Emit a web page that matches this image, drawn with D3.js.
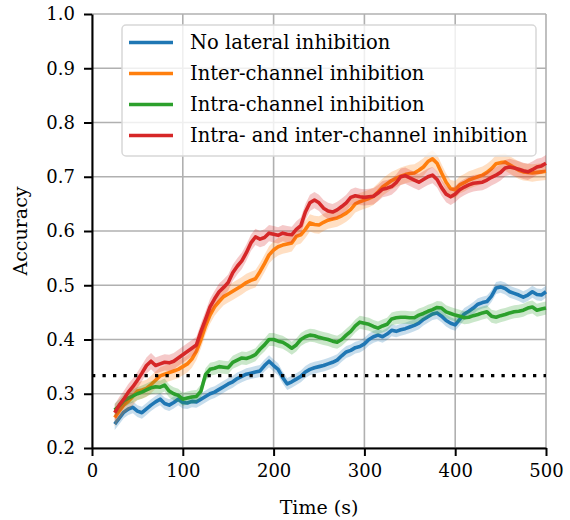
<!DOCTYPE html>
<html>
<head>
<meta charset="utf-8">
<script src="https://cdn.jsdelivr.net/npm/d3@7"></script>
<style>
  html, body { margin: 0; padding: 0; background: #fff; }
  svg { display: block; }
  text { font-family: "DejaVu Serif", serif; fill: #000; }
</style>
</head>
<body>
<svg id="chart" width="570" height="520"></svg>
<script>
// Sample times (s), one reading every 5 s
const times = d3.range(25, 501, 5);

// Mean accuracy per condition
const noLateral = [
  0.244, 0.255, 0.266, 0.272, 0.275, 0.268, 0.265, 0.272, 0.279, 0.285,
  0.290, 0.282, 0.279, 0.284, 0.290, 0.284, 0.283, 0.286, 0.285, 0.290,
  0.295, 0.300, 0.303, 0.308, 0.313, 0.318, 0.322, 0.328, 0.332, 0.336,
  0.338, 0.340, 0.342, 0.352, 0.360, 0.352, 0.345, 0.330, 0.318, 0.322,
  0.327, 0.332, 0.340, 0.345, 0.348, 0.350, 0.352, 0.355, 0.358, 0.362,
  0.370, 0.377, 0.380, 0.385, 0.387, 0.392, 0.400, 0.405, 0.408, 0.405,
  0.410, 0.417, 0.415, 0.418, 0.420, 0.423, 0.426, 0.430, 0.437, 0.442,
  0.447, 0.449, 0.443, 0.435, 0.430, 0.427, 0.437, 0.447, 0.452, 0.458,
  0.465, 0.468, 0.470, 0.480, 0.495, 0.497, 0.494, 0.488, 0.485, 0.482,
  0.478, 0.482, 0.488, 0.483, 0.482, 0.488
];
const interChannel = [
  0.256, 0.268, 0.279, 0.286, 0.295, 0.305, 0.307, 0.310, 0.317, 0.325,
  0.333, 0.336, 0.339, 0.342, 0.345, 0.350, 0.355, 0.364, 0.378, 0.400,
  0.425, 0.445, 0.460, 0.470, 0.479, 0.484, 0.489, 0.494, 0.499, 0.505,
  0.509, 0.512, 0.525, 0.540, 0.556, 0.565, 0.571, 0.574, 0.576, 0.578,
  0.590, 0.593, 0.603, 0.615, 0.612, 0.611, 0.616, 0.620, 0.622, 0.624,
  0.628, 0.633, 0.640, 0.650, 0.654, 0.657, 0.660, 0.664, 0.672, 0.681,
  0.687, 0.693, 0.697, 0.701, 0.704, 0.706, 0.707, 0.712, 0.718, 0.728,
  0.733, 0.725, 0.707, 0.690, 0.678, 0.676, 0.685, 0.689, 0.694, 0.697,
  0.700, 0.703, 0.708, 0.715, 0.724, 0.726, 0.727, 0.722, 0.717, 0.712,
  0.709, 0.708, 0.707, 0.708, 0.709, 0.710
];
const intraChannel = [
  0.270, 0.278, 0.287, 0.292, 0.296, 0.300, 0.303, 0.307, 0.311, 0.313,
  0.312, 0.316, 0.305, 0.300, 0.297, 0.290, 0.292, 0.294, 0.295, 0.305,
  0.335, 0.345, 0.347, 0.350, 0.349, 0.348, 0.358, 0.362, 0.366, 0.365,
  0.368, 0.372, 0.382, 0.390, 0.400, 0.400, 0.397, 0.395, 0.390, 0.384,
  0.390, 0.400, 0.405, 0.408, 0.407, 0.404, 0.402, 0.400, 0.397, 0.395,
  0.400, 0.408, 0.415, 0.425, 0.432, 0.430, 0.428, 0.424, 0.421, 0.425,
  0.428, 0.438, 0.440, 0.441, 0.441, 0.440, 0.440, 0.445, 0.448, 0.452,
  0.455, 0.459, 0.458, 0.451, 0.448, 0.445, 0.443, 0.440, 0.441, 0.444,
  0.446, 0.449, 0.451, 0.443, 0.441, 0.444, 0.446, 0.449, 0.451, 0.452,
  0.454, 0.458, 0.460, 0.454, 0.456, 0.458
];
const intraInter = [
  0.265, 0.279, 0.290, 0.303, 0.313, 0.325, 0.338, 0.352, 0.360, 0.352,
  0.355, 0.358, 0.357, 0.360, 0.366, 0.372, 0.378, 0.384, 0.390, 0.415,
  0.437, 0.460, 0.475, 0.488, 0.496, 0.505, 0.523, 0.535, 0.545, 0.560,
  0.578, 0.589, 0.585, 0.588, 0.596, 0.594, 0.592, 0.596, 0.594, 0.593,
  0.603, 0.610, 0.635, 0.652, 0.657, 0.652, 0.642, 0.637, 0.635, 0.639,
  0.645, 0.652, 0.662, 0.665, 0.663, 0.662, 0.663, 0.664, 0.670, 0.677,
  0.679, 0.682, 0.689, 0.700, 0.702, 0.698, 0.694, 0.690, 0.695, 0.700,
  0.703, 0.695, 0.680, 0.668, 0.663, 0.668, 0.676, 0.681, 0.685, 0.688,
  0.689, 0.690, 0.694, 0.699, 0.703, 0.708, 0.716, 0.718, 0.716, 0.714,
  0.711, 0.709, 0.713, 0.718, 0.720, 0.725
];

// Half-width of the shaded spread around each mean
const spreads = [0.011, 0.016, 0.012, 0.015];

const seriesNames = [
  "No lateral inhibition",
  "Inter-channel inhibition",
  "Intra-channel inhibition",
  "Intra- and inter-channel inhibition"
];
const seriesValues = [noLateral, interChannel, intraChannel, intraInter];
const seriesColors = ["#1f77b4", "#ff7f0e", "#2ca02c", "#d62728"];

// Chance level for three classes
const chanceLevel = 1 / 3;

const xTicks = [0, 100, 200, 300, 400, 500];
const yTicks = [0.2, 0.3, 0.4, 0.5, 0.6, 0.7, 0.8, 0.9, 1.0];

const svg = d3.select("#chart");
const plot = { left: 92, right: 546, top: 14, bottom: 448 };

const x = d3.scaleLinear().domain([0, 500]).range([plot.left, plot.right]);
const y = d3.scaleLinear().domain([0.2, 1.0]).range([plot.bottom, plot.top]);

// Grid
const grid = svg.append("g").attr("stroke", "#b0b0b0").attr("stroke-width", 1.6);
grid.selectAll("line.gx").data(xTicks).join("line")
  .attr("class", "gx")
  .attr("x1", d => x(d)).attr("x2", d => x(d))
  .attr("y1", plot.top).attr("y2", plot.bottom);
grid.selectAll("line.gy").data(yTicks).join("line")
  .attr("class", "gy")
  .attr("x1", plot.left).attr("x2", plot.right)
  .attr("y1", d => y(d)).attr("y2", d => y(d));

// Bands and mean lines
seriesValues.forEach((vals, i) => {
  const pts = times.map((t, k) => ({ t, v: vals[k] }));
  const area = d3.area()
    .x(d => x(d.t))
    .y0(d => y(d.v - spreads[i]))
    .y1(d => y(d.v + spreads[i]));
  svg.append("path").datum(pts)
    .attr("d", area)
    .attr("fill", seriesColors[i])
    .attr("fill-opacity", 0.25);
  const line = d3.line().x(d => x(d.t)).y(d => y(d.v));
  svg.append("path").datum(pts)
    .attr("d", line)
    .attr("fill", "none")
    .attr("stroke", seriesColors[i])
    .attr("stroke-width", 3.6)
    .attr("stroke-linejoin", "round");
});

// Chance line
svg.append("line")
  .attr("x1", x(0)).attr("x2", x(500))
  .attr("y1", y(chanceLevel)).attr("y2", y(chanceLevel))
  .attr("stroke", "#000")
  .attr("stroke-width", 3.3)
  .attr("stroke-dasharray", "3.3 7.2");

// Axes
const xAxis = d3.axisBottom(x).tickValues(xTicks).tickFormat(d3.format("d"))
  .tickSize(8).tickSizeOuter(0).tickPadding(8);
const yAxis = d3.axisLeft(y).tickValues(yTicks).tickFormat(d3.format(".1f"))
  .tickSize(8).tickSizeOuter(0).tickPadding(9);

const gx = svg.append("g").attr("transform", `translate(0,${plot.bottom})`).call(xAxis);
const gy = svg.append("g").attr("transform", `translate(${plot.left},0)`).call(yAxis);
[gx, gy].forEach(g => {
  g.select(".domain").attr("stroke", "#000").attr("stroke-width", 2);
  g.selectAll(".tick line").attr("stroke", "#000").attr("stroke-width", 2);
  g.selectAll(".tick text")
    .attr("font-family", "DejaVu Serif, serif")
    .attr("font-size", 18)
    .attr("fill", "#000");
});

// Axis titles
svg.append("text")
  .attr("x", (plot.left + plot.right) / 2).attr("y", 514)
  .attr("text-anchor", "middle")
  .attr("font-size", 19)
  .text("Time (s)");
svg.append("text")
  .attr("transform", `translate(27,${(plot.top + plot.bottom) / 2}) rotate(-90)`)
  .attr("text-anchor", "middle")
  .attr("font-size", 19)
  .text("Accuracy");

// Legend
const legend = svg.append("g");
legend.append("rect")
  .attr("x", 122).attr("y", 25).attr("width", 414).attr("height", 131)
  .attr("rx", 4).attr("ry", 4)
  .attr("fill", "#fff").attr("fill-opacity", 0.8)
  .attr("stroke", "#d8d8d8").attr("stroke-width", 1.5);
seriesNames.forEach((name, i) => {
  const cy = 42.5 + i * 31;
  legend.append("line")
    .attr("x1", 129).attr("x2", 173)
    .attr("y1", cy).attr("y2", cy)
    .attr("stroke", seriesColors[i]).attr("stroke-width", 3.6);
  legend.append("text")
    .attr("x", 190).attr("y", cy)
    .attr("dominant-baseline", "central")
    .attr("font-size", 19.5)
    .text(name);
});
</script>
</body>
</html>
